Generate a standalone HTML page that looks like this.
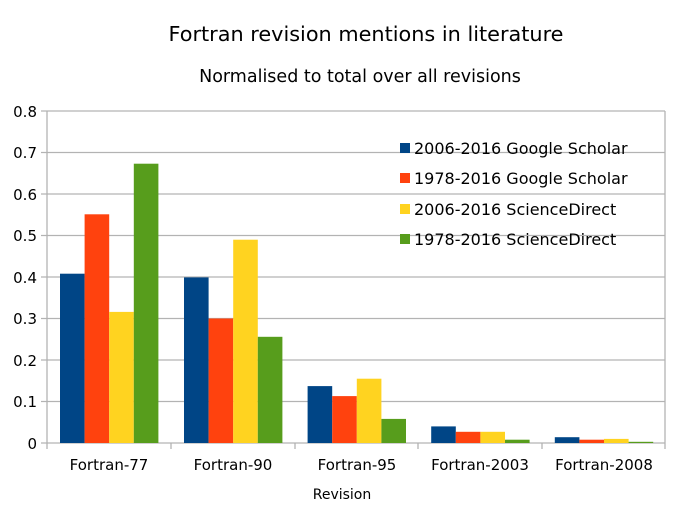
<!DOCTYPE html><html><head><style>body{margin:0;background:#fff}</style></head><body>
<svg width="678" height="523" xmlns="http://www.w3.org/2000/svg" font-family="DejaVu Sans, sans-serif">
<rect width="678" height="523" fill="#fff"/>
<text x="366" y="41" font-size="20.8" text-anchor="middle">Fortran revision mentions in literature</text>
<text x="360" y="82" font-size="17.5" text-anchor="middle">Normalised to total over all revisions</text>
<g stroke="#b3b3b3" stroke-width="1.3">
<line x1="41" y1="111" x2="665" y2="111"/><line x1="41" y1="152.5" x2="665" y2="152.5"/><line x1="41" y1="194" x2="665" y2="194"/><line x1="41" y1="235.5" x2="665" y2="235.5"/><line x1="41" y1="277" x2="665" y2="277"/><line x1="41" y1="318.5" x2="665" y2="318.5"/><line x1="41" y1="360" x2="665" y2="360"/><line x1="41" y1="401.5" x2="665" y2="401.5"/><line x1="41" y1="443" x2="665" y2="443"/>
<line x1="47" y1="111" x2="47" y2="449"/><line x1="665" y1="111" x2="665" y2="449"/>
<line x1="171" y1="443" x2="171" y2="449"/><line x1="295" y1="443" x2="295" y2="449"/><line x1="418" y1="443" x2="418" y2="449"/><line x1="542" y1="443" x2="542" y2="449"/>
</g>
<g font-size="15" text-anchor="end">
<text x="37" y="117">0.8</text><text x="37" y="158">0.7</text><text x="37" y="200">0.6</text><text x="37" y="241">0.5</text><text x="37" y="283">0.4</text><text x="37" y="324">0.3</text><text x="37" y="366">0.2</text><text x="37" y="407">0.1</text><text x="37" y="449">0</text>
</g>
<g font-size="15" text-anchor="middle">
<text x="109" y="470">Fortran-77</text><text x="233" y="470">Fortran-90</text><text x="357" y="470">Fortran-95</text><text x="480" y="470">Fortran-2003</text><text x="604" y="470">Fortran-2008</text>
</g>
<text x="342" y="499" font-size="14" text-anchor="middle">Revision</text>
<g font-size="16">
<rect x="400" y="143" width="10" height="10" fill="#004586"/><text x="414" y="154">2006-2016 Google Scholar</text>
<rect x="400" y="173" width="10" height="10" fill="#ff420e"/><text x="414" y="184">1978-2016 Google Scholar</text>
<rect x="400" y="204" width="10" height="10" fill="#ffd320"/><text x="414" y="215">2006-2016 ScienceDirect</text>
<rect x="400" y="234" width="10" height="10" fill="#579d1c"/><text x="414" y="245">1978-2016 ScienceDirect</text>
</g>
<g>
<rect x="60" y="273.7" width="24.6" height="169.3" fill="#004586"/>
<rect x="84.6" y="214.3" width="24.6" height="228.7" fill="#ff420e"/>
<rect x="109.2" y="311.9" width="24.6" height="131.1" fill="#ffd320"/>
<rect x="133.8" y="163.7" width="24.6" height="279.3" fill="#579d1c"/>
<rect x="184" y="277.4" width="24.6" height="165.6" fill="#004586"/>
<rect x="208.6" y="318.5" width="24.6" height="124.5" fill="#ff420e"/>
<rect x="233.2" y="239.7" width="24.6" height="203.3" fill="#ffd320"/>
<rect x="257.8" y="336.8" width="24.6" height="106.2" fill="#579d1c"/>
<rect x="307.6" y="386.1" width="24.6" height="56.9" fill="#004586"/>
<rect x="332.2" y="396.1" width="24.6" height="46.9" fill="#ff420e"/>
<rect x="356.8" y="378.7" width="24.6" height="64.3" fill="#ffd320"/>
<rect x="381.4" y="418.9" width="24.6" height="24.1" fill="#579d1c"/>
<rect x="431.2" y="426.4" width="24.6" height="16.6" fill="#004586"/>
<rect x="455.8" y="431.8" width="24.6" height="11.2" fill="#ff420e"/>
<rect x="480.4" y="431.8" width="24.6" height="11.2" fill="#ffd320"/>
<rect x="505" y="439.7" width="24.6" height="3.3" fill="#579d1c"/>
<rect x="554.8" y="437.2" width="24.6" height="5.8" fill="#004586"/>
<rect x="579.4" y="439.7" width="24.6" height="3.3" fill="#ff420e"/>
<rect x="604" y="438.9" width="24.6" height="4.1" fill="#ffd320"/>
<rect x="628.6" y="441.8" width="24.6" height="1.2" fill="#579d1c"/>
</g>
</svg>
</body></html>
